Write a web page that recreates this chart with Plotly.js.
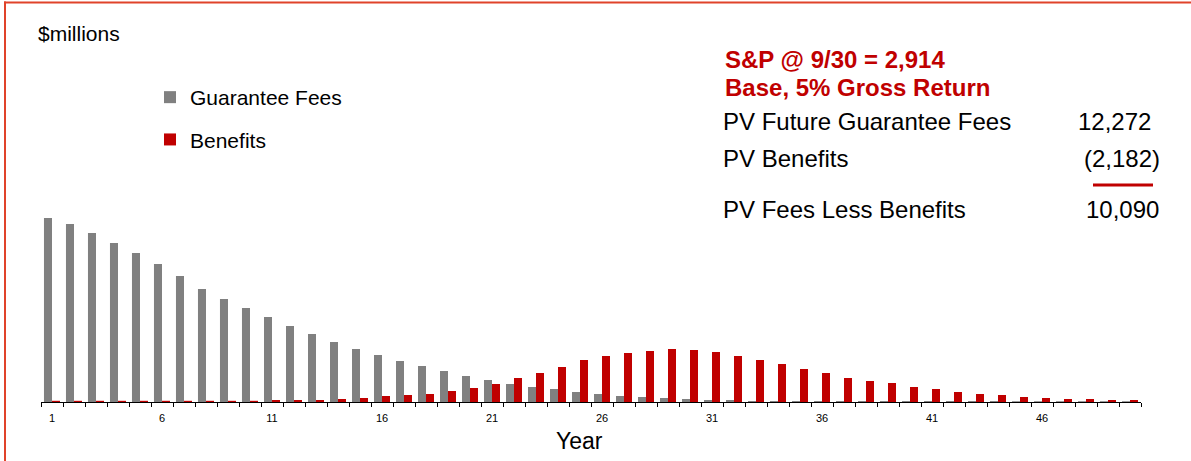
<!DOCTYPE html>
<html>
<head>
<meta charset="utf-8">
<script src="https://cdn.plot.ly/plotly-3.0.1.min.js"></script>
<style>
html,body{margin:0;padding:0;background:#fff;}
#chart{width:1191px;height:461px;}
</style>
</head>
<body>
<div id="chart"></div>
<script>
// ---- data (units as drawn, $millions scale not labelled) ----
var years = [];
for (var i = 1; i <= 50; i++) years.push(i);

var guaranteeFees = [184, 178, 169, 159, 149, 138, 126, 113, 103, 94,
                     85, 76, 68, 60, 53, 47, 41, 36, 31, 26,
                     22, 18, 15, 13, 10, 8, 6, 5, 4, 3,
                     2, 2, 1, 1, 1, 1, 1, 1, 1, 1,
                     1, 1, 1, 1, 0.8, 0.8, 0.8, 0.8, 0.8, 0.8];

var benefits = [1.2, 1.2, 1.2, 1.2, 1.2, 1.2, 1.2, 1.2, 1.2, 1.2,
                2, 2, 2, 3, 4, 6, 7, 8, 11, 14,
                18, 24, 29, 35, 42, 46, 49, 51, 53, 52,
                50, 46, 42, 38, 33, 29, 24, 21, 19, 15,
                13, 10, 8, 7, 5, 4, 3, 3, 2, 2];

var tickYears = [1, 6, 11, 16, 21, 26, 31, 36, 41, 46];
var tickLabels = ["1", "6", "11", "16", "21", "26", "31", "36", "41", "46"];

var xTitle = "Year";
var unitLabel = "$millions";
var seriesNames = ["Guarantee Fees", "Benefits"];
var summaryTitle = ["S&P @ 9/30 = 2,914", "Base, 5% Gross Return"];
var summaryLabels = ["PV Future Guarantee Fees", "PV Benefits", "PV Fees Less Benefits"];
var summaryValues = ["12,272", "(2,182)", "10,090"];

// ---- layout helpers (pixel -> paper) ----
var W = 1191, H = 461;
var M = {l: 41, r: 50, t: 20, b: 59};
var PW = W - M.l - M.r, PH = H - M.t - M.b;
function px(x) { return (x - M.l) / PW; }
function py(y) { return (H - M.b - y) / PH; }

var FONT = "Liberation Sans, Arial, Helvetica, sans-serif";
var GRAY = "#808080", RED = "#C00000", BORDER = "#E0432A";

var traces = [
  {type: "bar", x: years, y: guaranteeFees, name: seriesNames[0], legendgroup: "g1",
   marker: {color: GRAY}, hoverinfo: "x+y"},
  {type: "bar", x: years, y: benefits, name: seriesNames[1], legendgroup: "g2",
   marker: {color: RED}, hoverinfo: "x+y"}
];

var ann = [];
ann.push({text: unitLabel, x: px(36), y: py(34), xref: "paper", yref: "paper",
  xanchor: "left", yanchor: "middle", showarrow: false, font: {family: FONT, size: 21, color: "#000"}});
ann.push({text: xTitle, x: px(579), y: py(441), xref: "paper", yref: "paper",
  xanchor: "center", yanchor: "middle", showarrow: false, font: {family: FONT, size: 23, color: "#000"}});
ann.push({text: "<b>" + summaryTitle[0] + "</b>", x: px(723), y: py(59), xref: "paper", yref: "paper",
  xanchor: "left", yanchor: "middle", showarrow: false, font: {family: FONT, size: 24, color: RED}});
ann.push({text: "<b>" + summaryTitle[1] + "</b>", x: px(723), y: py(87), xref: "paper", yref: "paper",
  xanchor: "left", yanchor: "middle", showarrow: false, font: {family: FONT, size: 24, color: RED}});
var rowY = [121, 158, 209];
var valRight = [1153, 1162, 1161];
for (var k = 0; k < 3; k++) {
  ann.push({text: summaryLabels[k], x: px(721), y: py(rowY[k]), xref: "paper", yref: "paper",
    xanchor: "left", yanchor: "middle", showarrow: false, font: {family: FONT, size: 24, color: "#000"}});
  ann.push({text: summaryValues[k], x: px(valRight[k]), y: py(rowY[k]), xref: "paper", yref: "paper",
    xanchor: "right", yanchor: "middle", showarrow: false, font: {family: FONT, size: 24, color: "#000"}});
}

var shapes = [
  {type: "line", xref: "paper", yref: "paper", x0: px(1093), x1: px(1153), y0: py(185), y1: py(185),
   line: {color: RED, width: 3}},
  {type: "line", xref: "paper", yref: "paper", x0: px(4), x1: px(W), y0: py(2.5), y1: py(2.5),
   line: {color: BORDER, width: 2}},
  {type: "line", xref: "paper", yref: "paper", x0: px(5), x1: px(5), y0: py(1.5), y1: py(H),
   line: {color: BORDER, width: 2}}
];

var layout = {
  width: W, height: H,
  margin: M,
  paper_bgcolor: "#fff", plot_bgcolor: "#fff",
  font: {family: FONT, color: "#000"},
  barmode: "group", bargap: 0.27, bargroupgap: 0,
  showlegend: true,
  legend: {x: px(150), y: py(77), xref: "paper", yref: "paper",
    xanchor: "left", yanchor: "top", traceorder: "grouped", tracegroupgap: 12,
    font: {family: FONT, size: 21, color: "#000"}, bgcolor: "rgba(0,0,0,0)", borderwidth: 0},
  xaxis: {
    range: [0.5, 50.5], tickmode: "array", tickvals: tickYears, ticktext: tickLabels,
    ticks: "", showgrid: false, zeroline: false, showline: true, linecolor: "#000", linewidth: 1,
    tickfont: {family: FONT, size: 11, color: "#000"}, ticklabelstandoff: 6,
    minor: {tickmode: "linear", tick0: 0.5, dtick: 1, ticks: "outside", ticklen: 4, tickcolor: "#000", tickwidth: 1, showgrid: false},
    automargin: false
  },
  yaxis: {range: [0, PH], visible: false, showgrid: false, zeroline: false, fixedrange: true, automargin: false},
  annotations: ann,
  shapes: shapes
};

Plotly.newPlot("chart", traces, layout, {displayModeBar: false, staticPlot: true});
</script>
</body>
</html>
